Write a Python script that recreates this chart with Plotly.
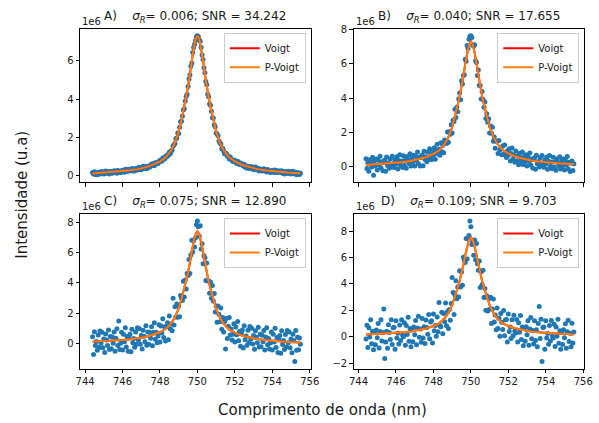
import plotly.graph_objects as go

# ---------------- data (intensities in units of 1e6) ----------------
wavelength = [
    744.40, 744.45, 744.50, 744.55, 744.60, 744.65, 744.70, 744.75, 744.80, 744.85,
    744.90, 744.95, 745.00, 745.05, 745.10, 745.15, 745.20, 745.25, 745.30, 745.35,
    745.40, 745.45, 745.50, 745.55, 745.60, 745.65, 745.70, 745.75, 745.80, 745.85,
    745.90, 745.95, 746.00, 746.05, 746.10, 746.15, 746.20, 746.25, 746.30, 746.35,
    746.40, 746.45, 746.50, 746.55, 746.60, 746.65, 746.70, 746.75, 746.80, 746.85,
    746.90, 746.95, 747.00, 747.05, 747.10, 747.15, 747.20, 747.25, 747.30, 747.35,
    747.40, 747.45, 747.50, 747.55, 747.60, 747.65, 747.70, 747.75, 747.80, 747.85,
    747.90, 747.95, 748.00, 748.05, 748.10, 748.15, 748.20, 748.25, 748.30, 748.35,
    748.40, 748.45, 748.50, 748.55, 748.60, 748.65, 748.70, 748.75, 748.80, 748.85,
    748.90, 748.95, 749.00, 749.05, 749.10, 749.15, 749.20, 749.25, 749.30, 749.35,
    749.40, 749.45, 749.50, 749.55, 749.60, 749.65, 749.70, 749.75, 749.80, 749.85,
    749.90, 749.95, 750.00, 750.05, 750.10, 750.15, 750.20, 750.25, 750.30, 750.35,
    750.40, 750.45, 750.50, 750.55, 750.60, 750.65, 750.70, 750.75, 750.80, 750.85,
    750.90, 750.95, 751.00, 751.05, 751.10, 751.15, 751.20, 751.25, 751.30, 751.35,
    751.40, 751.45, 751.50, 751.55, 751.60, 751.65, 751.70, 751.75, 751.80, 751.85,
    751.90, 751.95, 752.00, 752.05, 752.10, 752.15, 752.20, 752.25, 752.30, 752.35,
    752.40, 752.45, 752.50, 752.55, 752.60, 752.65, 752.70, 752.75, 752.80, 752.85,
    752.90, 752.95, 753.00, 753.05, 753.10, 753.15, 753.20, 753.25, 753.30, 753.35,
    753.40, 753.45, 753.50, 753.55, 753.60, 753.65, 753.70, 753.75, 753.80, 753.85,
    753.90, 753.95, 754.00, 754.05, 754.10, 754.15, 754.20, 754.25, 754.30, 754.35,
    754.40, 754.45, 754.50, 754.55, 754.60, 754.65, 754.70, 754.75, 754.80, 754.85,
    754.90, 754.95, 755.00, 755.05, 755.10, 755.15, 755.20, 755.25, 755.30, 755.35,
    755.40, 755.45, 755.50,
]

data_A = [
    0.15, 0.07, 0.19, 0.05, 0.13, 0.04, 0.16, 0.13, 0.07, 0.20,
    0.11, 0.19, 0.07, 0.17, 0.23, 0.11, 0.14, 0.20, 0.07, 0.18,
    0.20, 0.11, 0.18, 0.25, 0.15, 0.23, 0.11, 0.26, 0.22, 0.16,
    0.14, 0.24, 0.27, 0.21, 0.17, 0.32, 0.27, 0.21, 0.32, 0.25,
    0.32, 0.25, 0.36, 0.23, 0.32, 0.23, 0.36, 0.33, 0.28, 0.41,
    0.33, 0.42, 0.30, 0.41, 0.48, 0.36, 0.40, 0.48, 0.35, 0.47,
    0.50, 0.43, 0.52, 0.60, 0.52, 0.61, 0.51, 0.67, 0.66, 0.61,
    0.62, 0.73, 0.79, 0.75, 0.74, 0.91, 0.89, 0.86, 1.00, 0.97,
    1.08, 1.05, 1.22, 1.14, 1.29, 1.32, 1.53, 1.61, 1.67, 1.92,
    1.96, 2.23, 2.20, 2.53, 2.81, 2.84, 3.10, 3.43, 3.49, 3.90,
    4.14, 4.26, 4.66, 5.06, 5.26, 5.72, 5.90, 6.45, 6.71, 6.88,
    7.09, 7.28, 7.33, 7.27, 7.10, 7.03, 6.71, 6.32, 6.08, 5.65,
    5.38, 4.92, 4.76, 4.26, 4.13, 3.75, 3.68, 3.37, 3.03, 3.01,
    2.66, 2.55, 2.23, 2.17, 2.08, 1.81, 1.71, 1.65, 1.40, 1.42,
    1.30, 1.14, 1.15, 1.15, 1.00, 1.02, 0.86, 0.96, 0.88, 0.78,
    0.73, 0.79, 0.79, 0.69, 0.63, 0.74, 0.67, 0.57, 0.65, 0.56,
    0.60, 0.50, 0.59, 0.43, 0.49, 0.37, 0.48, 0.44, 0.36, 0.47,
    0.37, 0.44, 0.30, 0.39, 0.44, 0.30, 0.32, 0.37, 0.23, 0.33,
    0.33, 0.23, 0.29, 0.35, 0.24, 0.30, 0.18, 0.31, 0.26, 0.19,
    0.16, 0.25, 0.27, 0.20, 0.15, 0.29, 0.23, 0.16, 0.25, 0.18,
    0.23, 0.15, 0.25, 0.11, 0.19, 0.08, 0.20, 0.16, 0.10, 0.22,
    0.12, 0.20, 0.07, 0.16, 0.22, 0.09, 0.11, 0.17, 0.03, 0.13,
    0.14, 0.05, 0.11,
]

data_B = [
    0.45, -0.12, 0.21, -0.29, 0.39, 0.17, -0.03, 0.54, -0.52, 0.31,
    0.03, 0.43, -0.21, 0.36, 0.09, 0.60, -0.10, 0.27, -0.26, 0.24,
    0.37, -0.28, 0.55, 0.06, 0.20, -0.11, 0.44, 0.00, 0.60, 0.16,
    -0.07, 0.37, 0.14, 0.56, -0.15, 0.34, 0.68, 0.07, 0.32, -0.07,
    0.62, 0.06, 0.38, -0.11, 0.58, 0.36, 0.17, 0.74, 0.03, 0.52,
    0.25, 0.66, 0.02, 0.60, 0.34, 0.85, 0.16, 0.55, 0.02, 0.53,
    0.67, 0.04, 0.89, 0.41, 0.57, 0.27, 0.84, 0.41, 1.04, 0.61,
    0.41, 0.86, 0.66, 1.10, 0.42, 0.93, 1.30, 0.72, 1.00, 0.65,
    1.38, 0.86, 1.24, 0.80, 1.55, 1.45, 1.34, 2.02, 1.42, 2.03,
    1.89, 2.44, 1.95, 2.71, 2.63, 3.35, 2.86, 3.47, 3.20, 3.95,
    4.30, 3.90, 5.02, 4.83, 5.32, 5.36, 6.27, 6.16, 7.08, 6.90,
    7.45, 7.62, 7.65, 7.55, 7.10, 7.05, 7.12, 6.18, 6.08, 5.33,
    5.65, 4.75, 4.74, 3.95, 4.38, 3.92, 3.47, 3.77, 2.81, 3.08,
    2.58, 2.79, 1.95, 2.36, 1.94, 2.30, 1.47, 1.72, 1.07, 1.48,
    1.47, 0.75, 1.52, 0.96, 1.05, 0.68, 1.19, 0.70, 1.26, 0.78,
    0.52, 0.92, 0.66, 1.04, 0.31, 0.76, 1.08, 0.43, 0.65, 0.24,
    0.90, 0.31, 0.61, 0.09, 0.75, 0.50, 0.29, 0.85, 0.11, 0.58,
    0.29, 0.68, 0.02, 0.58, 0.30, 0.79, 0.08, 0.44, -0.10, 0.39,
    0.50, -0.16, 0.66, 0.16, 0.29, -0.04, 0.51, 0.05, 0.64, 0.19,
    -0.05, 0.38, 0.14, 0.55, -0.17, 0.31, 0.64, 0.02, 0.25, -0.14,
    0.53, -0.04, 0.27, -0.23, 0.45, 0.21, 0.01, 0.57, -0.15, 0.33,
    0.04, 0.44, -0.21, 0.35, 0.08, 0.58, -0.13, 0.24, -0.30, 0.19,
    0.31, -0.24, 0.15,
]

data_C = [
    0.46, -0.71, 0.79, -0.11, 0.15, -0.42, 0.57, -0.24, 0.84, 0.04,
    0.76, -0.27, 0.32, -0.58, 0.64, 0.24, -0.12, 0.91, -0.38, 0.48,
    -0.33, 0.44, 0.03, 0.77, -0.50, 0.37, 0.98, -0.12, 1.50, -0.38,
    0.03, 0.76, -0.41, 0.63, 0.14, 1.05, -0.21, 0.47, -0.50, 0.40,
    0.63, -0.53, 0.96, 0.07, 0.34, -0.23, 0.77, -0.04, 1.05, 0.25,
    0.98, -0.04, 0.55, -0.34, 0.89, 0.49, 0.14, 1.19, -0.10, 0.77,
    -0.03, 0.76, 0.37, 1.12, -0.13, 0.75, 1.38, 0.29, 0.75, 0.07,
    0.51, 1.25, 0.11, 1.17, 0.71, 1.64, 0.41, 1.12, 0.18, 1.12,
    1.39, 0.27, 1.82, 0.98, 1.31, 0.86, 3.00, 1.24, 2.44, 1.76,
    2.62, 1.74, 2.48, 1.77, 3.18, 2.99, 2.84, 4.11, 3.08, 4.19,
    3.60, 4.62, 4.50, 5.54, 4.62, 5.84, 6.81, 6.04, 6.79, 6.36,
    6.98, 7.84, 8.08, 7.70, 7.07, 7.76, 6.23, 6.58, 5.26, 5.80,
    5.66, 4.16, 5.32, 4.13, 4.14, 3.33, 4.07, 2.99, 3.83, 2.81,
    3.31, 2.09, 2.48, 1.42, 2.49, 1.94, 1.45, 2.36, 0.95, 1.72,
    0.77, 1.47, -0.35, 1.67, 0.35, 1.16, 1.73, 0.58, 0.97, 0.24,
    0.62, 1.31, 0.11, 1.11, 0.60, 1.47, 0.19, 0.83, -0.17, 0.71,
    0.91, -0.28, 1.19, 0.27, 0.51, -0.09, 0.89, 0.07, 1.13, 0.31,
    1.02, -0.02, 0.55, -0.36, 0.85, 0.43, 0.06, 1.08, -0.22, 0.63,
    -0.20, 0.56, 0.14, 0.87, -0.41, 0.44, 1.05, -0.07, 0.35, -0.35,
    0.05, 0.77, -0.41, 0.62, 0.12, 1.02, -0.25, 0.42, -0.57, 0.33,
    0.54, -0.63, 0.85, -0.05, 0.21, -0.38, 0.61, -0.21, 0.87, 0.06,
    0.77, -0.26, 0.32, -0.59, 0.63, 0.22, -1.17, 0.88, -0.42, 0.43,
    -0.39, 0.38, -0.04,
]

data_D = [
    -0.16, 0.88, -0.80, 0.68, -0.02, 1.29, -0.53, 0.43, -0.97, 0.34,
    -0.60, 0.52, -0.07, 1.00, -0.85, 0.41, 1.29, -0.32, 0.32, 2.10,
    -1.65, -0.40, 0.43, -0.86, 0.91, 0.32, -0.20, 1.29, -0.58, 0.68,
    0.73, -0.95, 1.21, -0.08, 0.28, -0.54, 0.89, -0.27, 1.30, 0.13,
    0.01, 1.06, -0.63, 0.86, 0.17, 1.48, -0.33, 0.63, -0.76, 0.55,
    -0.38, 0.75, 0.16, 1.24, -0.60, 0.66, 1.55, -0.04, 0.60, -0.41,
    1.38, -0.08, 0.77, -0.51, 1.28, 0.70, 0.20, 1.70, -0.14, 1.13,
    1.21, -0.46, 1.73, 0.46, 0.85, 0.05, 1.51, 0.38, 2.60, 0.85,
    0.77, 1.86, 0.23, 1.77, 1.14, 2.57, 0.84, 1.91, 0.63, 2.06,
    1.26, 2.53, 4.50, 3.35, 1.69, 3.16, 4.25, 2.88, 3.78, 3.01,
    5.01, 3.78, 4.90, 3.91, 6.03, 5.79, 5.63, 7.45, 5.90, 7.42,
    7.68, 8.77, 8.34, 6.99, 7.21, 6.17, 7.33, 5.84, 7.06, 5.53,
    5.04, 5.75, 3.73, 4.92, 3.97, 5.04, 2.97, 3.66, 2.02, 3.11,
    1.95, 2.88, 2.09, 3.00, 1.00, 2.11, 2.86, 1.13, 1.65, 0.54,
    2.18, 0.63, 1.40, 0.04, 1.76, 1.11, 0.55, 1.99, 0.08, 1.30,
    1.32, -0.40, 1.73, 0.40, 0.74, -0.12, 1.29, 0.09, 1.63, 0.44,
    0.29, 1.31, -0.40, 1.06, 0.34, 1.62, -0.21, 0.74, -0.68, 0.61,
    -0.34, 0.77, 0.16, 1.22, -0.64, 0.60, 1.47, -0.15, 0.48, -0.55,
    1.21, -0.28, 0.54, -0.76, 1.00, 2.30, -0.13, 1.34, -1.87, 0.71,
    0.75, -0.94, 1.21, -0.09, 0.26, -0.57, 0.85, -0.32, 1.23, 0.06,
    -0.08, 0.96, -0.74, 0.74, 0.04, 1.33, -0.49, 0.46, -0.94, 0.36,
    -0.59, 0.53, -0.07, 0.99, -0.86, 0.39, 1.26, -0.35, 0.28, -0.75,
    1.02, -0.46, 0.36,
]

fit_x = [744.4, 744.8, 745.2, 745.6, 746.0, 746.4, 746.8, 747.2, 747.6, 748.0,
         748.3, 748.6, 748.8, 749.0, 749.15, 749.3, 749.4, 749.5, 749.6, 749.7,
         749.8, 749.9, 750.0, 750.1, 750.2, 750.3, 750.4, 750.5, 750.6, 750.7,
         750.85, 751.0, 751.2, 751.4, 751.7, 752.0, 752.4, 752.8, 753.2, 753.6,
         754.0, 754.4, 754.8, 755.2, 755.5]

voigt_A = [0.10, 0.13, 0.15, 0.18, 0.22, 0.27, 0.33, 0.42, 0.55, 0.74,
           0.94, 1.32, 1.72, 2.30, 2.90, 3.62, 4.10, 4.64, 5.30, 6.02,
           6.68, 7.16, 7.35, 7.16, 6.68, 6.02, 5.30, 4.64, 4.10, 3.62,
           2.90, 2.30, 1.72, 1.32, 0.94, 0.74, 0.55, 0.42, 0.33, 0.27,
           0.22, 0.18, 0.15, 0.13, 0.11]
pvoigt_A = [0.10, 0.13, 0.15, 0.18, 0.22, 0.27, 0.33, 0.42, 0.55, 0.74,
            0.94, 1.32, 1.72, 2.30, 2.90, 3.62, 4.10, 4.64, 5.30, 6.02,
            6.68, 7.15, 7.33, 7.15, 6.68, 6.02, 5.30, 4.64, 4.10, 3.62,
            2.90, 2.30, 1.72, 1.32, 0.94, 0.74, 0.55, 0.42, 0.33, 0.27,
            0.22, 0.18, 0.15, 0.13, 0.11]
voigt_B = [0.08, 0.11, 0.14, 0.17, 0.21, 0.26, 0.32, 0.41, 0.54, 0.73,
           0.93, 1.31, 1.71, 2.29, 2.89, 3.61, 4.09, 4.63, 5.29, 6.01,
           6.67, 7.14, 7.33, 7.15, 6.68, 6.02, 5.31, 4.65, 4.11, 3.63,
           2.92, 2.32, 1.74, 1.34, 0.96, 0.76, 0.57, 0.44, 0.35, 0.29,
           0.24, 0.20, 0.17, 0.15, 0.13]
pvoigt_B = [0.08, 0.11, 0.14, 0.17, 0.21, 0.26, 0.32, 0.41, 0.54, 0.73,
            0.93, 1.31, 1.71, 2.29, 2.89, 3.61, 4.09, 4.63, 5.29, 6.01,
            6.67, 7.12, 7.30, 7.13, 6.68, 6.02, 5.31, 4.65, 4.11, 3.63,
            2.92, 2.32, 1.74, 1.34, 0.96, 0.76, 0.57, 0.44, 0.35, 0.29,
            0.24, 0.20, 0.17, 0.15, 0.13]
voigt_C = [0.14, 0.16, 0.18, 0.21, 0.25, 0.30, 0.36, 0.45, 0.58, 0.77,
           0.97, 1.35, 1.75, 2.33, 2.94, 3.66, 4.15, 4.69, 5.36, 6.08,
           6.75, 7.22, 7.40, 7.21, 6.72, 6.05, 5.32, 4.66, 4.11, 3.62,
           2.90, 2.30, 1.71, 1.31, 0.93, 0.73, 0.53, 0.40, 0.31, 0.24,
           0.19, 0.15, 0.12, 0.10, 0.08]
pvoigt_C = [0.14, 0.16, 0.18, 0.21, 0.25, 0.30, 0.36, 0.45, 0.58, 0.77,
            0.97, 1.35, 1.75, 2.33, 2.94, 3.66, 4.15, 4.69, 5.36, 6.08,
            6.75, 7.20, 7.37, 7.19, 6.72, 6.05, 5.32, 4.66, 4.11, 3.62,
            2.90, 2.30, 1.71, 1.31, 0.93, 0.73, 0.53, 0.40, 0.31, 0.24,
            0.19, 0.15, 0.12, 0.10, 0.08]
voigt_D = [0.18, 0.21, 0.23, 0.26, 0.30, 0.35, 0.41, 0.50, 0.63, 0.82,
           1.02, 1.40, 1.81, 2.40, 3.01, 3.74, 4.23, 4.78, 5.45, 6.18,
           6.85, 7.35, 7.55, 7.35, 6.85, 6.18, 5.45, 4.78, 4.23, 3.74,
           3.01, 2.40, 1.81, 1.40, 1.02, 0.82, 0.63, 0.50, 0.41, 0.35,
           0.30, 0.26, 0.23, 0.21, 0.18]
pvoigt_D = [0.18, 0.21, 0.23, 0.26, 0.30, 0.35, 0.41, 0.50, 0.63, 0.82,
            1.02, 1.40, 1.81, 2.40, 3.01, 3.74, 4.23, 4.78, 5.45, 6.18,
            6.85, 7.33, 7.52, 7.33, 6.85, 6.18, 5.45, 4.78, 4.23, 3.74,
            3.01, 2.40, 1.81, 1.40, 1.02, 0.82, 0.63, 0.50, 0.41, 0.35,
            0.30, 0.26, 0.23, 0.21, 0.18]

panel_labels = ["A)", "B)", "C)", "D)"]
sigma_R = ["0.006", "0.040", "0.075", "0.109"]
snr = ["34.242", "17.655", "12.890", "9.703"]
x_ticks = [744, 746, 748, 750, 752, 754, 756]
y_ticks = [[0, 2, 4, 6], [0, 2, 4, 6, 8], [0, 2, 4, 6, 8], [-2, 0, 2, 4, 6, 8]]
y_ranges = [[-0.36, 7.69], [-0.93, 8.06], [-1.63, 8.54], [-2.40, 9.30]]

# ---------------- layout geometry ----------------
W, H = 599, 423
col_dom = [[77 / W, 313 / W], [357 / W, 593 / W]]
row_dom = [[1 - 180 / H, 1 - 25 / H], [1 - 368 / H, 1 - 212 / H]]
x_range = [743.74, 756.05]

FONT = "DejaVu Sans"
BLUE = "#1f77b4"
panels = [
    (data_A, voigt_A, pvoigt_A),
    (data_B, voigt_B, pvoigt_B),
    (data_C, voigt_C, pvoigt_C),
    (data_D, voigt_D, pvoigt_D),
]

fig = go.Figure()
layout = dict(
    width=W, height=H,
    margin=dict(l=0, r=0, t=0, b=0),
    paper_bgcolor="white", plot_bgcolor="white",
    font=dict(family=FONT, size=10, color="#1a1a1a"),
    showlegend=True,
)
annotations = []

for k, (dat, vo, pv) in enumerate(panels):
    r, c = divmod(k, 2)
    n = k + 1
    xa = "x" if n == 1 else f"x{n}"
    ya = "y" if n == 1 else f"y{n}"
    lg = "legend" if n == 1 else f"legend{n}"

    fig.add_trace(go.Scatter(
        x=wavelength, y=dat, mode="markers", xaxis=xa, yaxis=ya,
        marker=dict(color=BLUE, size=5, line=dict(width=0)),
        showlegend=False, legend=lg))
    fig.add_trace(go.Scatter(
        x=fit_x, y=vo, mode="lines", name="Voigt", xaxis=xa, yaxis=ya,
        line=dict(color="#ff0000", width=2), legend=lg))
    fig.add_trace(go.Scatter(
        x=fit_x, y=pv, mode="lines", name="P-Voigt", xaxis=xa, yaxis=ya,
        line=dict(color="#ff7f0e", width=2), legend=lg))

    xkey = "xaxis" if n == 1 else f"xaxis{n}"
    ykey = "yaxis" if n == 1 else f"yaxis{n}"
    common = dict(showline=True, mirror=True, linecolor="black", linewidth=1,
                  ticks="outside", ticklen=3.5, tickwidth=0.8, tickcolor="black",
                  showgrid=False, zeroline=False,
                  tickfont=dict(family=FONT, size=10, color="#1a1a1a"))
    layout[xkey] = dict(domain=col_dom[c], anchor=ya, range=x_range,
                        tickvals=x_ticks, showticklabels=(r == 1), **common)
    layout[ykey] = dict(domain=row_dom[r], anchor=xa, range=y_ranges[k],
                        tickvals=y_ticks[k], **common)

    layout[lg] = dict(
        x=col_dom[c][1] - 5 / W, y=row_dom[r][1] - 4 / H,
        xanchor="right", yanchor="top",
        bgcolor="rgba(255,255,255,0.85)", bordercolor="#cccccc", borderwidth=1,
        font=dict(family=FONT, size=10, color="#1a1a1a"),
        itemwidth=30, tracegroupgap=0)

    xc = (col_dom[c][0] + col_dom[c][1]) / 2
    annotations.append(dict(
        xref="paper", yref="paper", x=xc, y=row_dom[r][1],
        xanchor="center", yanchor="bottom", yshift=2, showarrow=False,
        text=f"{panel_labels[k]}\u00a0\u00a0\u00a0\u00a0<i>σ<sub>R</sub></i>= {sigma_R[k]}; SNR = {snr[k]}",
        font=dict(family=FONT, size=12, color="#1a1a1a")))
    annotations.append(dict(
        xref="paper", yref="paper", x=col_dom[c][0], y=row_dom[r][1],
        xanchor="left", yanchor="bottom", yshift=0, showarrow=False,
        text="1e6", font=dict(family=FONT, size=10, color="#1a1a1a")))

annotations.append(dict(
    xref="paper", yref="paper", x=325 / W, y=1 - 410 / H,
    xanchor="center", yanchor="middle", showarrow=False,
    text="Comprimento de onda (nm)", font=dict(family=FONT, size=15, color="#1a1a1a")))
annotations.append(dict(
    xref="paper", yref="paper", x=18 / W, y=1 - 193 / H,
    xanchor="center", yanchor="middle", showarrow=False, textangle=-90,
    text="Intensidade (u.a)", font=dict(family=FONT, size=15, color="#1a1a1a")))

layout["annotations"] = annotations
fig.update_layout(**layout)
fig.write_html("out.html")
